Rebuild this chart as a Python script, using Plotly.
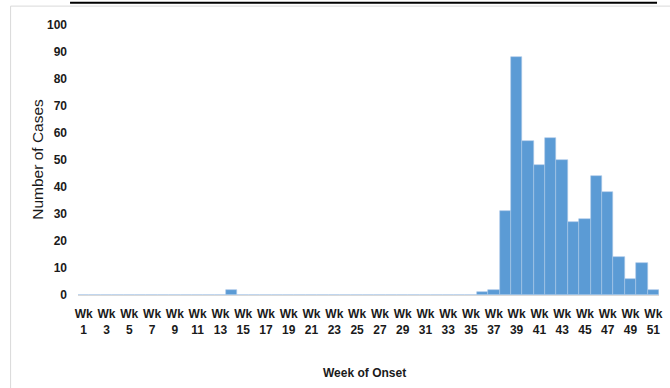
import plotly.graph_objects as go

weeks = list(range(1, 52))
cases_by_week = {14: 2, 36: 1, 37: 2, 38: 31, 39: 88, 40: 57, 41: 48, 42: 58, 43: 50,
                 44: 27, 45: 28, 46: 44, 47: 38, 48: 14, 49: 6, 50: 12, 51: 2}
cases = [cases_by_week.get(w, 0) for w in weeks]
tick_weeks = list(range(1, 52, 2))
tick_labels = [f"Wk<br>{w}" for w in tick_weeks]
y_ticks = list(range(0, 101, 10))

FONT = "Liberation Sans, Arial, sans-serif"
INK = "#1a1a1a"

fig = go.Figure(go.Bar(
    x=weeks, y=cases,
    marker=dict(color="#5B9BD5", line=dict(color="#A9C8EA", width=0.6)),
))

fig.update_layout(
    width=670, height=388,
    margin=dict(l=78, r=7, t=25, b=93),
    paper_bgcolor="white", plot_bgcolor="white",
    bargap=0, showlegend=False,
    font=dict(family=FONT, color=INK, size=12),
    xaxis=dict(
        range=[0.5, 51.5], tickvals=tick_weeks, ticktext=tick_labels,
        showgrid=False, zeroline=False, showline=True, linecolor="#d9d9d9", linewidth=1,
        ticks="", ticklabelstandoff=8, tickfont=dict(family=FONT, size=12, weight="bold", color=INK),
    ),
    yaxis=dict(
        range=[0, 100], tickvals=y_ticks, showgrid=False, zeroline=False, showline=False,
        ticks="", ticklabelstandoff=10, tickfont=dict(family=FONT, size=12, weight="bold", color=INK),
    ),
    annotations=[
        dict(text="Number of Cases", xref="paper", yref="paper", x=-0.07, y=0.502,
             xanchor="center", yanchor="middle", textangle=-90, showarrow=False,
             font=dict(family=FONT, size=15.5, color=INK)),
        dict(text="<b>Week of Onset</b>", xref="paper", yref="paper", x=0.493, y=-0.289,
             xanchor="center", yanchor="middle", showarrow=False,
             font=dict(family=FONT, size=12, color=INK)),
    ],
    shapes=[
        dict(type="rect", xref="paper", yref="paper", x0=-0.116, x1=1.03, y0=-0.4, y1=1.07,
             line=dict(color="#d9d9d9", width=1)),
        dict(type="line", xref="paper", yref="paper", x0=-0.0137, x1=0.9966, y0=1.082, y1=1.082,
             line=dict(color="black", width=2)),
    ],
)

fig.write_html("out.html", config={"displayModeBar": False},
               post_script="document.body.style.margin='0';")
